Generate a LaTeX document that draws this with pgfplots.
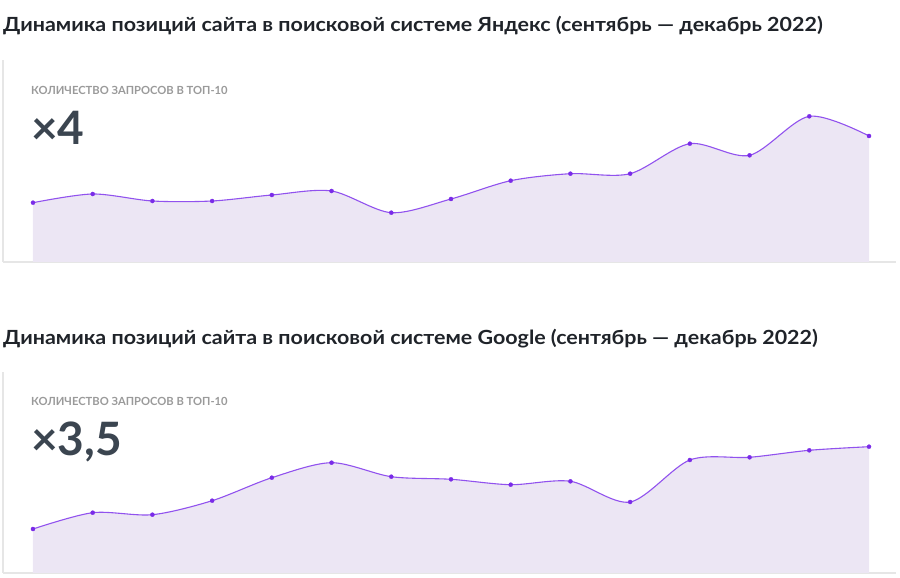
\documentclass[border=0pt]{standalone}
\usepackage{pgfplots}
\pgfplotsset{compat=1.18}
\usepackage{fontspec}
\setmainfont{Lato}
\definecolor{linec}{HTML}{9152EE}
\definecolor{markc}{HTML}{7A2BE8}
\definecolor{fillc}{HTML}{ECE6F4}
\definecolor{framec}{HTML}{E6E6E6}
\definecolor{titlec}{HTML}{1F2329}
\definecolor{bigc}{HTML}{3B4550}
\definecolor{smallc}{HTML}{9A9A9A}
\pgfplotsset{
  card/.style={
    scale only axis, width=893pt, height=202pt,
    xmin=-0.502, xmax=14.452, ymin=0, ymax=202,
    axis x line*=bottom, axis y line*=left,
    axis line style={draw=framec, line width=1.2pt, -},
    xtick=\empty, ytick=\empty, clip=false,
  },
  curve/.style={draw=linec, line width=1.1pt, smooth, tension=0.5,
    mark=*, mark size=2.1pt, mark options={draw=markc, fill=markc, line width=0.2pt}},
  area/.style={draw=none, fill=fillc, smooth, tension=0.5},
}
\newcommand{\titletext}[1]{\scalebox{1.1}[1]{\fontsize{19.5}{21}\selectfont\bfseries #1}}
\begin{document}
\begin{tikzpicture}
\useasboundingbox (0,0) rectangle (900pt,578pt);
% Yandex
\node[anchor=base west, inner sep=0, text=titlec] at (3pt,546.3pt)
  {\titletext{Динамика позиций сайта в поисковой системе Яндекс (сентябрь — декабрь 2022)}};
\begin{axis}[card, at={(3pt,316pt)}, anchor=south west]
\addplot[area] coordinates {(0,59.3) (1,68) (2,61) (3,61) (4,67) (5,71) (6,49.3) (7,63) (8,81.3) (9,88.3) (10,88.3) (11,118.3) (12,106.7) (13,145.7) (14,126)} \closedcycle;
\addplot[curve] coordinates {(0,59.3) (1,68) (2,61) (3,61) (4,67) (5,71) (6,49.3) (7,63) (8,81.3) (9,88.3) (10,88.3) (11,118.3) (12,106.7) (13,145.7) (14,126)};
\end{axis}
\node[anchor=base west, inner sep=0, text=smallc, font=\fontsize{11.2}{12}\selectfont\bfseries] at (31pt,483pt)
  {КОЛИЧЕСТВО ЗАПРОСОВ В ТОП-10};
\node[anchor=base west, inner sep=0, text=bigc, font=\fontsize{46}{50}\selectfont\bfseries] at (31pt,433pt) {×4};
% Google
\node[anchor=base west, inner sep=0, text=titlec] at (3pt,233pt)
  {\titletext{Динамика позиций сайта в поисковой системе Google (сентябрь — декабрь 2022)}};
\begin{axis}[card, at={(3pt,5pt)}, anchor=south west, height=201pt, ymax=201]
\addplot[area] coordinates {(0,44) (1,60.3) (2,58.3) (3,72.3) (4,95.3) (5,110.3) (6,96.3) (7,93.7) (8,88.3) (9,91.7) (10,71) (11,113) (12,115.7) (13,122.7) (14,126.3)} \closedcycle;
\addplot[curve] coordinates {(0,44) (1,60.3) (2,58.3) (3,72.3) (4,95.3) (5,110.3) (6,96.3) (7,93.7) (8,88.3) (9,91.7) (10,71) (11,113) (12,115.7) (13,122.7) (14,126.3)};
\end{axis}
\node[anchor=base west, inner sep=0, text=smallc, font=\fontsize{11.2}{12}\selectfont\bfseries] at (31pt,172pt)
  {КОЛИЧЕСТВО ЗАПРОСОВ В ТОП-10};
\node[anchor=base west, inner sep=0, text=bigc, font=\fontsize{46}{50}\selectfont\bfseries] at (31pt,122pt) {×3,5};
\end{tikzpicture}
\end{document}
